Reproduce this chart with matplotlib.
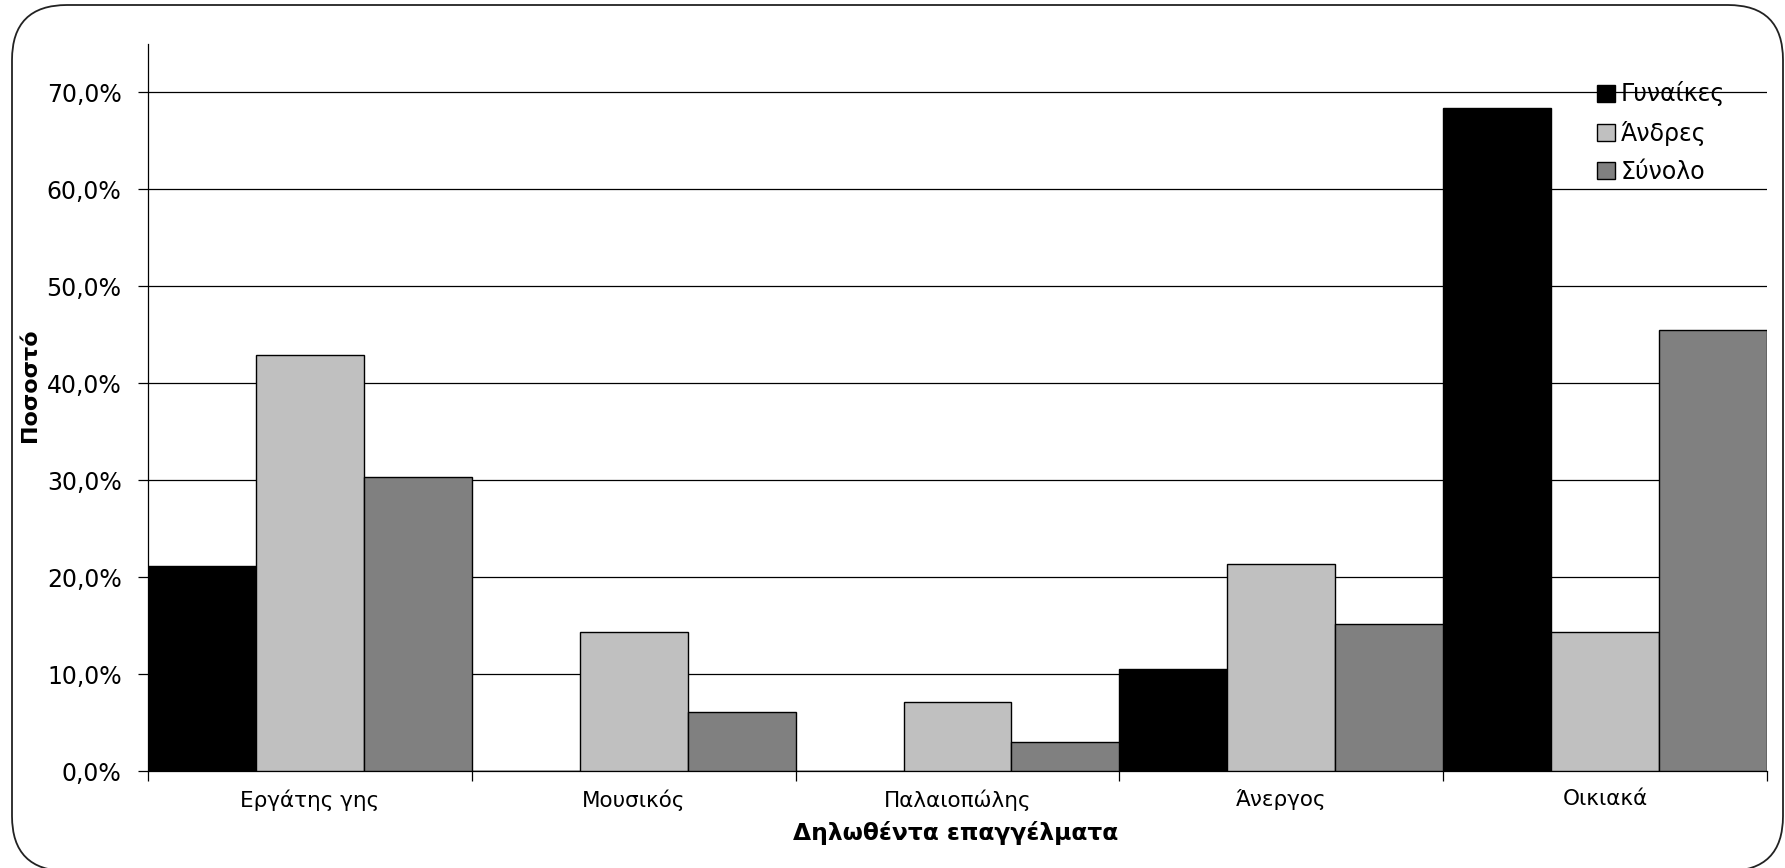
import matplotlib
matplotlib.use("Agg")
import matplotlib.pyplot as plt
import numpy as np
from matplotlib.patches import FancyBboxPatch, Patch
from matplotlib.transforms import IdentityTransform
from matplotlib.ticker import FuncFormatter, FixedLocator

categories = ["Εργάτης γης", "Μουσικός", "Παλαιοπώλης", "Άνεργος", "Οικιακά"]
series_names = ["Γυναίκες", "Άνδρες", "Σύνολο"]
women = [21.1, 0.0, 0.0, 10.5, 68.4]
men = [42.9, 14.3, 7.1, 21.4, 14.3]
total = [30.3, 6.1, 3.0, 15.2, 45.5]
colors = ["#000000", "#C0C0C0", "#808080"]

plt.rcParams['font.family'] = ['DejaVu Sans']

W, H = 1785, 868
fig = plt.figure(figsize=(W / 100, H / 100), dpi=100)

# rounded outer frame (pixel coords)
frame = FancyBboxPatch((12, -3), 1771, 866, boxstyle="round,pad=0,rounding_size=55",
                       transform=IdentityTransform(), fill=False, ec="#222222", lw=1.3)
fig.patches.append(frame)

ax = fig.add_axes([148 / W, 1 - 771 / H, (1767 - 148) / W, (771 - 44) / H])

x = np.arange(len(categories))
bw = 1 / 3
for i, vals in enumerate([women, men, total]):
    ax.bar(x - 0.5 + bw * (i + 0.5), vals, width=bw, color=colors[i],
           edgecolor="black", linewidth=1.0, zorder=3, label=series_names[i])

ax.set_xlim(-0.5, len(categories) - 0.5)
ax.set_ylim(0, 75)
ax.set_yticks(np.arange(0, 71, 10))
ax.yaxis.set_major_formatter(FuncFormatter(lambda v, p: f"{v:.1f}%".replace(".", ",")))
ax.yaxis.grid(True, color="black", linewidth=0.9, zorder=0)
ax.set_axisbelow(True)

# ticks at category boundaries, labels centred
ax.xaxis.set_major_locator(FixedLocator(np.arange(-0.5, len(categories), 1.0)))
ax.set_xticklabels([])
ax.xaxis.set_minor_locator(FixedLocator(x))
ax.set_xticklabels(categories, minor=True)
ax.tick_params(axis="x", which="major", length=7, width=0.9, direction="out")
ax.tick_params(axis="x", which="minor", length=0, pad=13, labelsize=15.5)
ax.tick_params(axis="y", length=7, width=0.9, pad=12, labelsize=17)

for s in ["top", "right"]:
    ax.spines[s].set_visible(False)
for s in ["left", "bottom"]:
    ax.spines[s].set_linewidth(0.9)

fig.text(956 / W, 1 - 833 / H, "Δηλωθέντα επαγγέλματα", ha="center", va="center",
         fontsize=16.8, fontweight="bold")
fig.text(30 / W, 1 - 385 / H, "Ποσοστό", ha="center", va="center", rotation=90,
         fontsize=16, fontweight="bold")

handles = [Patch(facecolor=c, edgecolor="black", linewidth=1.0) for c in colors]
fig.legend(handles, series_names, loc="upper left", bbox_to_anchor=(1588 / W, 1 - 72 / H),
           frameon=False, fontsize=17, handlelength=0.75, handleheight=0.75,
           handletextpad=0.25, labelspacing=0.6, borderaxespad=0)

fig.savefig("out.png", dpi=100)
